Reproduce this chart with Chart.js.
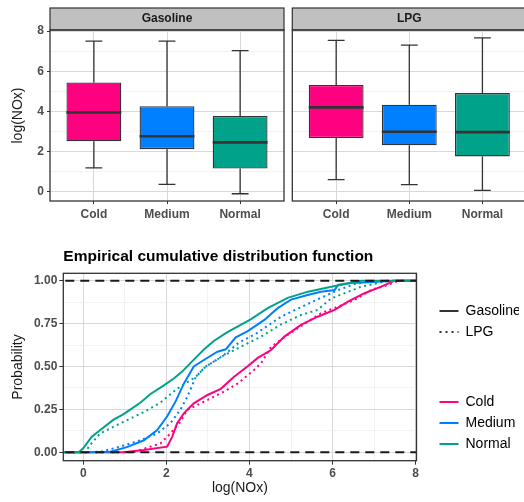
<!DOCTYPE html>
<html>
<head>
<meta charset="utf-8">
<script src="https://cdn.jsdelivr.net/npm/chart.js@4.4.0/dist/chart.umd.min.js"></script>
<style>
  html, body { margin: 0; padding: 0; background: #fff; }
  body { width: 524px; height: 502px; overflow: hidden; position: relative; }
  .panel { position: absolute; }
</style>
</head>
<body>
<div class="panel" style="left:0;top:0;width:290px;height:230px"><canvas id="gasoline" width="290" height="230"></canvas></div>
<div class="panel" style="left:287px;top:0;width:245px;height:230px"><canvas id="lpg" width="245" height="230"></canvas></div>
<div class="panel" style="left:0;top:240px;width:524px;height:262px"><canvas id="ecdf" width="524" height="262"></canvas></div>
<script>
// ---- data ----
const conditions = ['Cold', 'Medium', 'Normal'];
const fuels = ['Gasoline', 'LPG'];
const conditionColors = ['#FF0080', '#0080FF', '#00A38A'];

// boxplots: lower whisker, Q1, median, Q3, upper whisker
const gasLow = [1.19, 0.37, -0.10];
const gasQ1 = [2.51, 2.12, 1.16];
const gasMed = [3.95, 2.76, 2.46];
const gasQ3 = [5.44, 4.26, 3.77];
const gasHigh = [7.50, 7.50, 7.02];

const lpgLow = [0.60, 0.35, 0.07];
const lpgQ1 = [2.67, 2.31, 1.76];
const lpgMed = [4.20, 2.99, 2.97];
const lpgQ3 = [5.31, 4.33, 4.91];
const lpgHigh = [7.53, 7.30, 7.66];

const boxYTicks = [0, 1, 2, 3, 4, 5, 6, 7, 8];
const boxYMajor = [0, 2, 4, 6, 8];

// ecdf curves (x = log(NOx), y = probability)
const gasColdX = [-0.5, 0.97, 1.46, 2.02, 2.14, 2.26, 2.42, 2.66, 2.99, 3.31, 3.63, 3.95, 4.2, 4.52, 4.84, 5.24, 5.64, 6.05, 6.37, 6.77, 7.17, 7.5, 8.1];
const gasColdY = [0, 0, 0.013, 0.033, 0.09, 0.17, 0.227, 0.285, 0.334, 0.37, 0.44, 0.5, 0.55, 0.596, 0.674, 0.742, 0.79, 0.83, 0.878, 0.927, 0.965, 1, 1];
const gasMediumX = [-0.5, 0.17, 0.65, 1.05, 1.46, 1.78, 2.02, 2.22, 2.42, 2.66, 2.95, 3.23, 3.43, 3.67, 3.95, 4.35, 4.68, 5.0, 5.4, 5.72, 6.05, 6.13, 6.37, 7.09, 7.5, 8.1];
const gasMediumY = [0, 0, 0.003, 0.03, 0.07, 0.13, 0.21, 0.295, 0.4, 0.5, 0.545, 0.586, 0.6, 0.67, 0.705, 0.77, 0.84, 0.89, 0.917, 0.936, 0.946, 0.975, 0.985, 0.994, 1, 1];
const gasNormalX = [-0.5, -0.11, 0.0, 0.2, 0.41, 0.73, 0.95, 1.14, 1.38, 1.62, 1.94, 2.18, 2.38, 2.62, 2.91, 3.15, 3.47, 4.03, 4.44, 4.92, 5.41, 5.97, 6.4, 6.69, 8.1];
const gasNormalY = [0, 0, 0.023, 0.09, 0.13, 0.19, 0.22, 0.25, 0.29, 0.34, 0.39, 0.43, 0.47, 0.53, 0.6, 0.65, 0.7, 0.775, 0.84, 0.9, 0.936, 0.965, 0.985, 1, 1];
const lpgColdX = [-0.5, 1.2, 1.86, 2.1, 2.34, 2.5, 2.91, 3.31, 3.71, 4.11, 4.28, 4.52, 4.92, 5.4, 5.72, 6.13, 6.53, 6.93, 7.33, 7.58, 8.1];
const lpgColdY = [0, 0, 0.052, 0.11, 0.178, 0.247, 0.295, 0.344, 0.4, 0.48, 0.519, 0.615, 0.684, 0.761, 0.81, 0.849, 0.888, 0.946, 0.975, 1, 1];
const lpgMediumX = [-0.5, 0.41, 0.89, 1.38, 1.78, 2.1, 2.34, 2.5, 2.71, 2.95, 3.35, 3.75, 4.15, 4.76, 5.32, 5.72, 6.13, 6.53, 6.85, 7.3, 8.1];
const lpgMediumY = [0, 0.003, 0.033, 0.071, 0.11, 0.17, 0.25, 0.32, 0.44, 0.5, 0.56, 0.64, 0.69, 0.79, 0.855, 0.9, 0.945, 0.98, 0.994, 1, 1];
const lpgNormalX = [-0.5, 0.07, 0.13, 0.41, 0.73, 1.06, 1.46, 1.86, 2.26, 2.71, 2.95, 3.35, 3.79, 4.28, 4.76, 5.24, 5.64, 5.97, 6.29, 6.69, 7.25, 7.6, 8.1];
const lpgNormalY = [0, 0, 0.033, 0.11, 0.149, 0.188, 0.235, 0.29, 0.37, 0.44, 0.5, 0.56, 0.615, 0.674, 0.745, 0.8, 0.83, 0.897, 0.927, 0.965, 0.994, 1, 1];

const ecdfXTicks = [0, 1, 2, 3, 4, 5, 6, 7, 8];
const ecdfXMajor = [0, 2, 4, 6, 8];
const ecdfYTicks = [0, 0.125, 0.25, 0.375, 0.5, 0.625, 0.75, 0.875, 1];
const ecdfYMajor = [0, 0.25, 0.5, 0.75, 1];
const hlineValues = [0, 1];

// ---- shared look ----
Chart.defaults.font.family = "'Liberation Sans', Arial, sans-serif";
const tickFont = { size: 12, weight: 'bold' };
const tickGrey = '#4d4d4d';
const darkLine = '#333333';
const gridMajor = '#d9d9d9';
const gridMinor = '#eeeeee';

function gridFor(majors, showTicks) {
  return {
    color: c => majors.includes(c.tick.value) ? gridMajor : gridMinor,
    lineWidth: c => majors.includes(c.tick.value) ? 1 : 0.7,
    drawTicks: showTicks,
    tickLength: 4,
    tickColor: c => majors.includes(c.tick.value) ? darkLine : 'rgba(0,0,0,0)',
    offset: false
  };
}

const panelBorder = {
  id: 'panelBorder',
  afterDraw(chart) {
    const { ctx, chartArea: a } = chart;
    ctx.save();
    ctx.strokeStyle = darkLine;
    ctx.lineWidth = 1.3;
    ctx.strokeRect(a.left, a.top, a.right - a.left, a.bottom - a.top);
    ctx.restore();
  }
};

// ---- boxplot facets ----
const boxStats = {
  gasoline: { low: gasLow, q1: gasQ1, med: gasMed, q3: gasQ3, high: gasHigh, facet: fuels[0] },
  lpg: { low: lpgLow, q1: lpgQ1, med: lpgMed, q3: lpgQ3, high: lpgHigh, facet: fuels[1] }
};

const stripPlugin = {
  id: 'strip',
  afterDraw(chart) {
    const { ctx, chartArea: a } = chart;
    const st = boxStats[chart.canvas.id];
    ctx.save();
    ctx.fillStyle = '#c0c0c0';
    ctx.fillRect(a.left, a.top - 22, a.right - a.left, 22);
    ctx.strokeStyle = darkLine;
    ctx.lineWidth = 1.2;
    ctx.strokeRect(a.left, a.top - 22, a.right - a.left, 22);
    ctx.fillStyle = '#1a1a1a';
    ctx.font = "bold 12px 'Liberation Sans', Arial, sans-serif";
    ctx.textAlign = 'center';
    ctx.textBaseline = 'middle';
    ctx.fillText(st.facet, (a.left + a.right) / 2, a.top - 11);
    ctx.restore();
  }
};

const whiskerPlugin = {
  id: 'whiskers',
  beforeDatasetsDraw(chart) {
    const st = boxStats[chart.canvas.id];
    const { ctx, scales: { x, y } } = chart;
    const cap = (x.getPixelForValue(2) - x.getPixelForValue(1)) * 0.115;
    ctx.save();
    ctx.strokeStyle = darkLine;
    ctx.lineWidth = 1.3;
    conditions.forEach((c, i) => {
      const px = x.getPixelForValue(i + 1);
      ctx.beginPath();
      ctx.moveTo(px, y.getPixelForValue(st.high[i]));
      ctx.lineTo(px, y.getPixelForValue(st.q3[i]));
      ctx.moveTo(px, y.getPixelForValue(st.q1[i]));
      ctx.lineTo(px, y.getPixelForValue(st.low[i]));
      [st.high[i], st.low[i]].forEach(v => {
        const py = y.getPixelForValue(v);
        ctx.moveTo(px - cap, py);
        ctx.lineTo(px + cap, py);
      });
      ctx.stroke();
    });
    ctx.restore();
  },
  afterDatasetsDraw(chart) {
    const st = boxStats[chart.canvas.id];
    const { ctx, scales: { y } } = chart;
    const meta = chart.getDatasetMeta(0);
    ctx.save();
    ctx.strokeStyle = darkLine;
    ctx.lineWidth = 2.6;
    meta.data.forEach((bar, i) => {
      const py = y.getPixelForValue(st.med[i]);
      ctx.beginPath();
      ctx.moveTo(bar.x - bar.width / 2, py);
      ctx.lineTo(bar.x + bar.width / 2, py);
      ctx.stroke();
    });
    ctx.restore();
  }
};

function boxChart(id, showY) {
  const st = boxStats[id];
  return new Chart(document.getElementById(id), {
    type: 'bar',
    data: {
      datasets: [{
        data: conditions.map((c, i) => ({ x: i + 1, y: [st.q1[i], st.q3[i]] })),
        backgroundColor: conditionColors,
        borderColor: darkLine,
        borderWidth: 1.3,
        borderSkipped: false,
        barPercentage: 0.75,
        categoryPercentage: 1
      }]
    },
    options: {
      responsive: false,
      animation: false,
      layout: { padding: { top: 30, right: showY ? 6 : 5.7, left: 0, bottom: 0 } },
      plugins: { legend: { display: false }, tooltip: { enabled: false } },
      scales: {
        x: {
          type: 'linear', min: 0.4, max: 3.6, offset: false,
          afterBuildTicks: s => { s.ticks = conditions.map((c, i) => ({ value: i + 1 })); },
          afterFit: s => { s.height = 29; },
          ticks: { autoSkip: false, maxRotation: 0, padding: 3, color: tickGrey, font: tickFont, callback: v => conditions[v - 1] },
          grid: { color: gridMajor, lineWidth: 1, tickLength: 3, tickColor: darkLine, offset: false },
          border: { display: false }
        },
        y: {
          min: -0.46, max: 8.05,
          afterBuildTicks: s => { s.ticks = boxYTicks.map(v => ({ value: v })); },
          afterFit: s => { s.width = showY ? 50 : 5.3; },
          ticks: { display: showY, autoSkip: false, padding: 3, color: tickGrey, font: tickFont, callback: v => boxYMajor.includes(v) ? String(v) : '' },
          grid: Object.assign(gridFor(boxYMajor, showY), { tickLength: 3 }),
          border: { display: false },
          title: { display: showY, text: 'log(NOx)', color: '#1a1a1a', font: { size: 14 }, padding: { top: 10, bottom: 0 } }
        }
      }
    },
    plugins: [whiskerPlugin, stripPlugin, panelBorder]
  });
}

boxChart('gasoline', true);
boxChart('lpg', false);

// ---- ECDF chart ----
const curves = [
  { fuel: 'Gasoline', cond: 0, xs: gasColdX, ys: gasColdY },
  { fuel: 'LPG', cond: 0, xs: lpgColdX, ys: lpgColdY },
  { fuel: 'Gasoline', cond: 1, xs: gasMediumX, ys: gasMediumY },
  { fuel: 'LPG', cond: 1, xs: lpgMediumX, ys: lpgMediumY },
  { fuel: 'Gasoline', cond: 2, xs: gasNormalX, ys: gasNormalY },
  { fuel: 'LPG', cond: 2, xs: lpgNormalX, ys: lpgNormalY }
];
const dotDash = [2, 3.5];

const ecdfDatasets = curves.map((c, k) => ({
  label: c.fuel + ' ' + conditions[c.cond],
  data: c.xs.map((x, i) => ({ x, y: c.ys[i] })),
  borderColor: conditionColors[c.cond],
  borderWidth: 2,
  borderDash: c.fuel === 'LPG' ? dotDash : [],
  pointRadius: 0,
  tension: 0,
  fill: false,
  order: curves.length - k
}));

const hlinePlugin = {
  id: 'hlines',
  afterDatasetsDraw(chart) {
    const { ctx, chartArea: a, scales: { y } } = chart;
    ctx.save();
    ctx.strokeStyle = '#1a1a1a';
    ctx.lineWidth = 2;
    ctx.setLineDash([9, 6]);
    hlineValues.forEach(v => {
      const py = y.getPixelForValue(v);
      ctx.beginPath();
      ctx.moveTo(a.left + 2, py);
      ctx.lineTo(a.right, py);
      ctx.stroke();
    });
    ctx.restore();
  }
};

const blankItem = lines => ({ text: lines, strokeStyle: 'rgba(0,0,0,0)', fillStyle: 'rgba(0,0,0,0)', lineWidth: 0, pointStyle: 'line', hidden: false });
const legendItems = [
  blankItem(''),
  { text: fuels[0], strokeStyle: darkLine, lineWidth: 2, lineDash: [], pointStyle: 'line', hidden: false },
  { text: fuels[1], strokeStyle: darkLine, lineWidth: 2, lineDash: [2, 4], pointStyle: 'line', hidden: false },
  blankItem(['', '', '']),
  ...conditions.map((c, i) => ({ text: c, strokeStyle: conditionColors[i], lineWidth: 2, lineDash: [], pointStyle: 'line', hidden: false }))
];

new Chart(document.getElementById('ecdf'), {
  type: 'line',
  data: { datasets: ecdfDatasets },
  options: {
    responsive: false,
    animation: false,
    layout: { padding: { top: 0, right: 5, left: 0, bottom: 0 } },
    plugins: {
      tooltip: { enabled: false },
      title: {
        display: true, text: 'Empirical cumulative distribution function', align: 'start', fullSize: false,
        color: '#000', font: { size: 15.5, weight: 'bold', lineHeight: 1.2 }, padding: { top: 7, bottom: 7.7 }
      },
      legend: {
        position: 'right', align: 'center', fullSize: false,
        labels: {
          usePointStyle: true, pointStyleWidth: 19, padding: 7,
          color: '#1a1a1a', font: { size: 14, lineHeight: 1 },
          generateLabels: () => legendItems
        }
      }
    },
    scales: {
      x: {
        type: 'linear', min: -0.48, max: 8.02,
        afterBuildTicks: s => { s.ticks = ecdfXTicks.map(v => ({ value: v })); },
        afterFit: s => { s.height = 41.3; },
        ticks: { autoSkip: false, maxRotation: 0, padding: 2, color: tickGrey, font: tickFont, callback: v => ecdfXMajor.includes(v) ? String(v) : '' },
        grid: gridFor(ecdfXMajor, true),
        border: { display: false },
        title: { display: true, text: 'log(NOx)', color: '#1a1a1a', font: { size: 14 }, padding: { top: 0, bottom: 5.6 } }
      },
      y: {
        type: 'linear', min: -0.049, max: 1.043,
        afterBuildTicks: s => { s.ticks = ecdfYTicks.map(v => ({ value: v })); },
        afterFit: s => { s.width = 63.3; },
        ticks: { autoSkip: false, padding: 2, color: tickGrey, font: tickFont, callback: v => ecdfYMajor.includes(v) ? v.toFixed(2) : '' },
        grid: gridFor(ecdfYMajor, true),
        border: { display: false },
        title: { display: true, text: 'Probability', color: '#1a1a1a', font: { size: 14 }, padding: { top: 10, bottom: 0 } }
      },
      gap: {
        type: 'linear', position: 'right', display: true,
        grid: { display: false }, ticks: { display: false }, border: { display: false },
        afterFit: s => { s.width = 16; }
      }
    }
  },
  plugins: [hlinePlugin, panelBorder]
});
</script>
</body>
</html>
